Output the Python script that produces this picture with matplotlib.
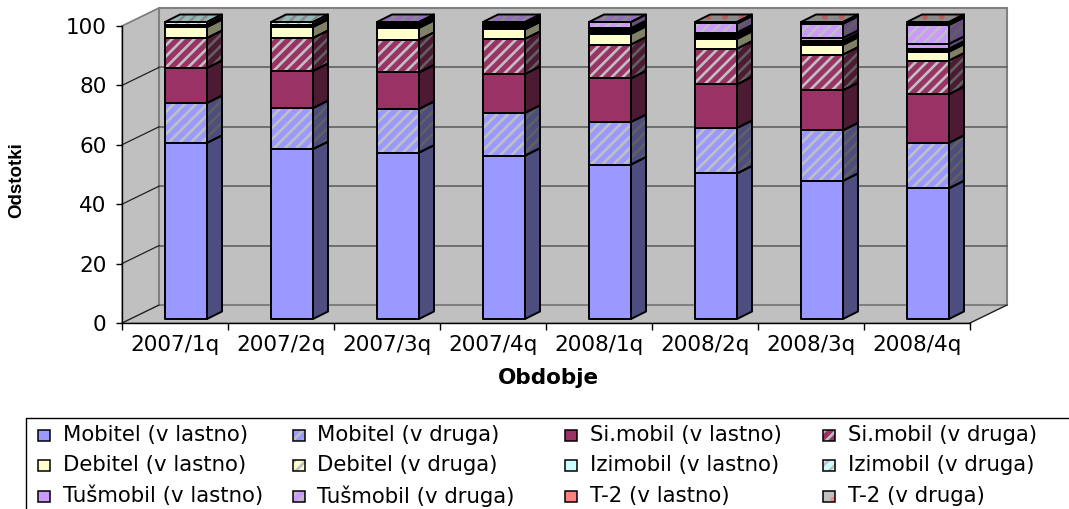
import numpy as np
import matplotlib
matplotlib.use('Agg')
import matplotlib.pyplot as plt
from matplotlib.patches import Polygon, Rectangle
from matplotlib.transforms import Affine2D

periods = ['2007/1q', '2007/2q', '2007/3q', '2007/4q', '2008/1q', '2008/2q', '2008/3q', '2008/4q']

mobitel_l = [59.3, 57.2, 56.0, 55.0, 52.0, 49.0, 46.5, 44.0]
mobitel_d = [13.4, 13.8, 14.7, 14.4, 14.3, 15.3, 17.0, 15.3]
simobil_l = [11.8, 12.5, 12.3, 13.1, 14.7, 14.7, 13.5, 16.4]
simobil_d = [10.1, 11.1, 11.0, 11.8, 11.4, 12.0, 12.0, 11.3]
debitel_l = [3.7, 3.7, 4.0, 3.2, 3.6, 3.3, 3.3, 3.0]
debitel_d = [0.6, 0.6, 0.6, 0.7, 0.7, 0.6, 0.6, 0.5]
izimobil_l = [0.2, 0.2, 0.2, 0.2, 0.2, 0.2, 0.2, 0.1]
izimobil_d = [0.9, 0.9, 0.6, 0.6, 0.5, 0.5, 0.5, 0.4]
tus_l = [0.0, 0.0, 0.2, 0.3, 0.5, 0.8, 1.0, 1.6]
tus_d = [0.0, 0.0, 0.4, 0.7, 2.1, 3.1, 4.8, 6.4]
t2_l = [0.0, 0.0, 0.0, 0.0, 0.0, 0.1, 0.2, 0.2]
t2_d = [0.0, 0.0, 0.0, 0.0, 0.0, 0.4, 0.4, 0.8]

series = [mobitel_l, mobitel_d, simobil_l, simobil_d, debitel_l, debitel_d,
          izimobil_l, izimobil_d, tus_l, tus_d, t2_l, t2_d]
names = ['Mobitel (v lastno)', 'Mobitel (v druga)', 'Si.mobil (v lastno)', 'Si.mobil (v druga)',
         'Debitel (v lastno)', 'Debitel (v druga)', 'Izimobil (v lastno)', 'Izimobil (v druga)',
         'Tušmobil (v lastno)', 'Tušmobil (v druga)', 'T-2 (v lastno)', 'T-2 (v druga)']
colors = ['#9999FF', '#9999FF', '#993366', '#993366', '#FFFFCC', '#FFFFCC',
          '#CCFFFF', '#CCFFFF', '#CC99FF', '#CC99FF', '#FF8080', '#FF8080']
yticks = [0, 20, 40, 60, 80, 100]

plt.rcParams['font.family'] = ['DejaVu Sans']
plt.rcParams['hatch.linewidth'] = 1.9

W, H = 1069, 509
fig = plt.figure(figsize=(W / 100, H / 100), dpi=100)
# front plane of the chart box, pixel numbers from the top left
ax = fig.add_axes([122 / W, 1 - 323 / H, 848 / W, 297 / H])
ax.set_xlim(0, 8)
ax.set_ylim(0, 100)
ax.patch.set_visible(False)
for s in ['top', 'right']:
    ax.spines[s].set_visible(False)
for s in ['left', 'bottom']:
    ax.spines[s].set_linewidth(1.0)

ax.set_yticks(yticks)
ax.tick_params(axis='y', labelsize=15.5, length=4, width=1, pad=7)
ax.set_xticks(range(9))
ax.set_xticklabels([])
ax.tick_params(axis='x', length=5, width=1)
for i, p in enumerate(periods):
    ax.text(i + 0.5, -7.5, p, ha='center', va='center', fontsize=15.5)
ax.set_xlabel('Obdobje', fontsize=15.5, fontweight='bold', labelpad=24)
ax.xaxis.label.set_x(0.503)
fig.text(17 / W, 1 - 180 / H, 'Odstotki', rotation=90, ha='center', va='center',
         fontsize=13.5, fontweight='bold', family='Liberation Sans')


def shifted(dx, dy):
    return ax.transData + Affine2D().translate(dx, dy)


back = shifted(37, 18)
wall = '#C0C0C0'
line = '#808080'
floor_x, floor_y = 37 / 106, 18 / 2.97
ax.add_patch(Polygon([[0, 0], [floor_x, floor_y], [8 + floor_x, floor_y], [8, 0]], closed=True,
                     fc=wall, ec=line, lw=0.8, clip_on=False, zorder=0))
ax.add_patch(Polygon([[0, 0], [floor_x, floor_y], [floor_x, 100 + floor_y], [0, 100]], closed=True,
                     fc=wall, ec=line, lw=0.8, clip_on=False, zorder=0))
ax.add_patch(Rectangle((0, 0), 8, 100, transform=back, fc=wall, ec=line, lw=1.5, clip_on=False, zorder=0.5))
for v in yticks[1:-1]:
    ax.plot([0, 8], [v, v], transform=back, color='#606060', lw=1.2, clip_on=False, zorder=1)
for v in yticks[:-1]:
    ax.plot([0, floor_x], [v, v + floor_y], color='#202020', lw=0.9, clip_on=False, zorder=1)
ax.plot([0, floor_x], [100, 100 + floor_y], color=line, lw=1.2, clip_on=False, zorder=1)
ax.plot([8, 8 + floor_x], [0, floor_y], color='#202020', lw=0.9, clip_on=False, zorder=1)

# bar position relative to the front plane
front = shifted(11, 4)
bar_w = 42 / 106
depth_x, depth_y = 15 / 106, 7.5 / 2.97


def shade(color, k):
    r = matplotlib.colors.to_rgb(color)
    return tuple(c * k for c in r)


def fill_style(j, k):
    # odd series are patterned, T-2 (v druga) is grey with sparse red dots
    if j == 11:
        return dict(fc=shade(wall, k), ec=shade(colors[j], k), hatch='.', lw=0)
    if j % 2 == 1:
        return dict(fc=shade(colors[j], k), ec=shade(wall, k), hatch='///', lw=0)
    return dict(fc=shade(colors[j], k), ec='none')


def face(points, j, k):
    ax.add_patch(Polygon(points, closed=True, transform=front, clip_on=False, zorder=3, **fill_style(j, k)))
    ax.add_patch(Polygon(points, closed=True, transform=front, fc='none', ec='black', lw=1.4,
                         joinstyle='round', clip_on=False, zorder=4))


x = np.arange(8) + 0.5
bottom = np.zeros(8)
for j, vals in enumerate(series):
    vals = np.array(vals)
    for i in range(8):
        if vals[i] <= 0:
            continue
        left = x[i] - bar_w / 2
        right = x[i] + bar_w / 2
        y0 = bottom[i]
        y1 = y0 + vals[i]
        face([[left, y0], [right, y0], [right, y1], [left, y1]], j, 1.0)
        face([[right, y0], [right + depth_x, y0 + depth_y], [right + depth_x, y1 + depth_y], [right, y1]], j, 0.5)
        # the top face only shows for the last series of a bar
        if all(series[m][i] <= 0 for m in range(j + 1, 12)):
            face([[left, y1], [right, y1], [right + depth_x, y1 + depth_y], [left + depth_x, y1 + depth_y]], j, 0.72)
    bottom += vals

# legend, clipped by the figure edge as in the original
pix = Affine2D().scale(1, -1).translate(0, H)
fig.add_artist(plt.Line2D([26, 26, W], [H, 418, 418], transform=pix, color='black', lw=1.0))
col_sw = [38, 293, 565, 823]
col_tx = [63, 317, 590, 848]
row_y = [435, 465, 496]
for j, name in enumerate(names):
    c = j % 4
    r = j // 4
    fig.add_artist(Rectangle((col_sw[c], row_y[r] - 5), 12, 11, transform=pix, **fill_style(j, 1.0)))
    fig.add_artist(Rectangle((col_sw[c], row_y[r] - 5), 12, 11, transform=pix, fc='none', ec='black', lw=1.1))
    fig.text(col_tx[c] / W, 1 - row_y[r] / H, name, ha='left', va='center', fontsize=15.3)

fig.savefig('out.png', dpi=100)
